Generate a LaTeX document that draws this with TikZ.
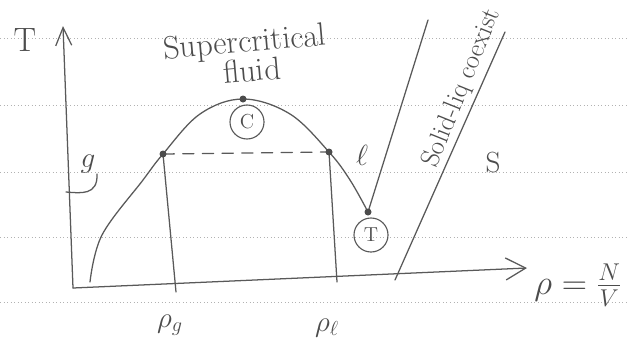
\documentclass[tikz,border=0pt]{standalone}
\usetikzlibrary{arrows.meta}
\tikzset{
  pencil/.style={draw=black!65,line width=0.9pt,line cap=round,line join=round},
  paperline/.style={draw=black!30,dotted,line width=0.5pt},
  handtext/.style={text=black!70,inner sep=0pt},
  statering/.style={draw=black!65,line width=0.8pt,circle,minimum size=0.85cm,inner sep=0pt,text=black!70,font=\Large},
}
\begin{document}
\begin{tikzpicture}[x=0.025cm,y=-0.025cm]
\useasboundingbox (0,0) rectangle (628,362);

%--- Lined paper ---
\foreach \yy in {38,105,172,237,302}{
  \draw[paperline] (0,\yy)--(628,\yy);
}

%--- Axes ---
\coordinate (O) at (73,288);
\coordinate (Ttip) at (63,26);
\coordinate (Rtip) at (527,268);
\draw[pencil,-{Straight Barb[length=4.5mm,width=4mm]}] (O)--(Ttip);
\draw[pencil,-{Straight Barb[length=5mm,width=5.5mm]}] (O)--(Rtip);

%--- Points on the dome ---
\coordinate (G) at (163,154);
\coordinate (C) at (243,99);
\coordinate (L) at (329,152);
\coordinate (Tp) at (368,212);

%--- Coexistence dome ---
\draw[pencil] plot[smooth,tension=0.6] coordinates
  {(90,282) (102,235) (143,180) (163,154) (200,114) (243,99) (290,114) (329,152) (350,180) (368,212)};

%--- Tie line and verticals ---
\coordinate (Gfoot) at (176,292);
\coordinate (Lfoot) at (337,282);
\draw[pencil,dash pattern=on 8pt off 6pt] (G)--(L);
\draw[pencil] (G)--(Gfoot);
\draw[pencil] (L)--(Lfoot);

%--- Solid-liquid lines ---
\coordinate (Atop) at (428,20);
\coordinate (Bbot) at (395,280);
\coordinate (Btop) at (505,32);
\draw[pencil] (Tp)--(Atop);
\draw[pencil] (Bbot)--(Btop);

%--- Dots ---
\foreach \p in {G,C,L,Tp}
  \fill[black!70] (\p) circle[radius=3.5];

%--- Labels ---
\node[handtext,font=\fontsize{24}{26}\selectfont] (Tlab) at (25,40) {T};
\node[handtext,font=\fontsize{23}{25}\selectfont,rotate=5] (sup) at (245,44) {Supercritical};
\node[handtext,font=\fontsize{23}{25}\selectfont,rotate=5] (fluid) at (252,70) {fluid};
\node[statering] (Cring) at (247,122) {C};
\node[statering] (Tring) at (371,235) {T};
\node[handtext,font=\huge] (glab) at (88,164) {$g$};
\draw[pencil] (97,174) .. controls (98,196) and (80,193) .. (66,192);
\node[handtext,font=\huge] (llab) at (362,155) {$\ell$};
\node[handtext,font=\huge] (slab) at (493,163) {S};
\node[handtext,font=\fontsize{19}{21}\selectfont,rotate=68] (coex) at (462,88) {Solid-liq coexist};
\node[handtext,font=\huge] (rg) at (170,325) {$\rho_g$};
\node[handtext,font=\huge] (rl) at (327,328) {$\rho_\ell$};
\node[handtext,font=\fontsize{25}{27}\selectfont] (rho) at (578,285) {$\rho=\frac{N}{V}$};

\end{tikzpicture}
\end{document}
